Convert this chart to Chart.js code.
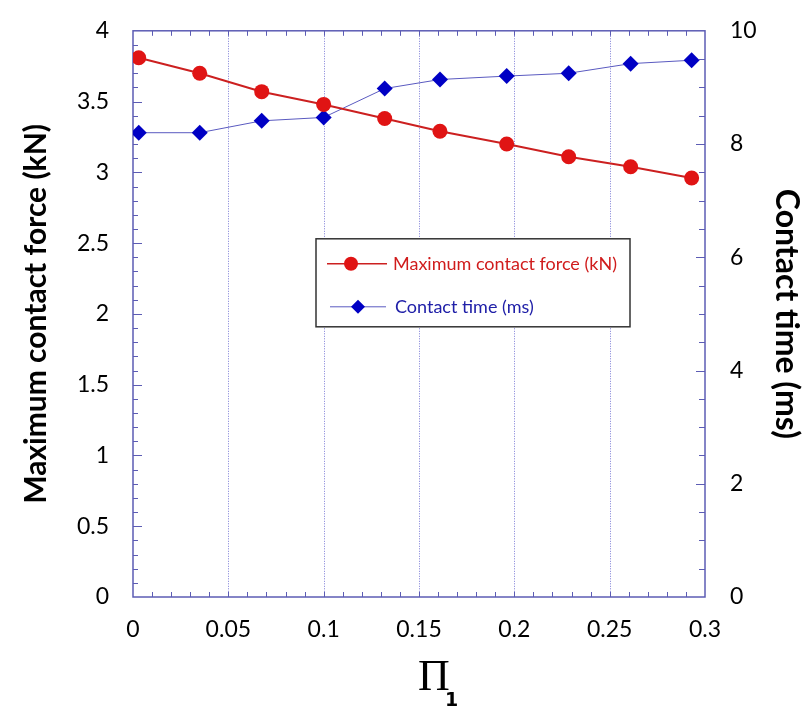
<!DOCTYPE html>
<html>
<head>
<meta charset="utf-8">
<script src="https://cdn.jsdelivr.net/npm/chart.js@4.4.1/dist/chart.umd.min.js"></script>
<style>
    body { margin: 0; background: #ffffff; }
    #wrap { width: 805px; height: 708px; }
</style>
</head>
<body>
<div id="wrap"><canvas id="forceChart" width="805" height="708"></canvas></div>
<script>
// ============================================
// DATA
// ============================================
const piValues = [0.003, 0.035, 0.0675, 0.1, 0.132, 0.161, 0.196, 0.2285, 0.261, 0.293];
const maxForce = [3.81, 3.70, 3.57, 3.48, 3.38, 3.29, 3.20, 3.11, 3.04, 2.96];
const contactTime = [8.20, 8.20, 8.41, 8.47, 8.98, 9.14, 9.20, 9.25, 9.42, 9.48];

const xTicks = [0, 0.05, 0.1, 0.15, 0.2, 0.25, 0.3];
const forceTicks = [0, 0.5, 1, 1.5, 2, 2.5, 3, 3.5, 4];
const timeTicks = [0, 2, 4, 6, 8, 10];

const forceLabel = 'Maximum contact force (kN)';
const timeLabel = 'Contact time (ms)';

// ============================================
// STYLE
// ============================================
const FONT = 'Lato, "Open Sans", sans-serif';
const RED = '#e01414';
const RED_LINE = '#cc2020';
const BLUE = '#0000c4';
const BLUE_LINE = '#5a5ac0';
const FRAME = '#5c5cb4';

const fmt = v => String(+Number(v).toFixed(3));

// frame, grid, inward ticks, legend and the x title
const framePlugin = {
    id: 'frame',
    beforeDatasetsDraw(chart) {
        const { ctx, chartArea: a, scales } = chart;
        const x = scales.x, yl = scales.y, yr = scales.y2;
        ctx.save();
        // dotted vertical grid lines
        ctx.strokeStyle = 'rgba(80, 80, 200, 0.75)';
        ctx.lineWidth = 1;
        ctx.setLineDash([1, 1.5]);
        xTicks.slice(1, -1).forEach(v => {
            const px = Math.round(x.getPixelForValue(v)) + 0.5;
            ctx.beginPath();
            ctx.moveTo(px, a.top);
            ctx.lineTo(px, a.bottom);
            ctx.stroke();
        });
        ctx.setLineDash([]);
        // inward minor ticks
        ctx.strokeStyle = FRAME;
        ctx.beginPath();
        for (let i = 1; i < 30; i++) {
            const px = Math.round(x.getPixelForValue(i / 100)) + 0.5;
            ctx.moveTo(px, a.bottom); ctx.lineTo(px, a.bottom - 5);
            ctx.moveTo(px, a.top); ctx.lineTo(px, a.top + 5);
        }
        for (let i = 1; i < 40; i++) {
            const py = Math.round(yl.getPixelForValue(i / 10)) + 0.5;
            ctx.moveTo(a.left, py); ctx.lineTo(a.left + (i % 5 === 0 ? 9 : 5), py);
        }
        for (let i = 1; i < 20; i++) {
            const py = Math.round(yr.getPixelForValue(i / 2)) + 0.5;
            ctx.moveTo(a.right, py); ctx.lineTo(a.right - (i % 4 === 0 ? 9 : 6), py);
        }
        ctx.stroke();
        // frame
        ctx.lineWidth = 1.5;
        ctx.strokeRect(a.left, a.top, a.right - a.left, a.bottom - a.top);
        ctx.restore();
    },
    afterDraw(chart) {
        const { ctx, chartArea: a } = chart;
        ctx.save();
        // legend box
        const lx = a.left + 183, ly = a.top + 208, lw = 314, lh = 88;
        ctx.fillStyle = '#ffffff';
        ctx.fillRect(lx, ly, lw, lh);
        ctx.strokeStyle = '#333333';
        ctx.lineWidth = 1.5;
        ctx.strokeRect(lx, ly, lw, lh);

        // force entry
        let ey = ly + 25;
        ctx.strokeStyle = RED_LINE;
        ctx.lineWidth = 1.5;
        ctx.beginPath(); ctx.moveTo(lx + 11, ey); ctx.lineTo(lx + 71, ey); ctx.stroke();
        ctx.fillStyle = RED;
        ctx.beginPath(); ctx.arc(lx + 35, ey, 7, 0, Math.PI * 2); ctx.fill();
        ctx.font = '18px ' + FONT;
        ctx.textBaseline = 'middle';
        ctx.fillStyle = '#d01c1c';
        ctx.fillText(forceLabel, lx + 77, ey);

        // time entry
        ey = ly + 68;
        ctx.strokeStyle = BLUE_LINE;
        ctx.lineWidth = 1;
        ctx.beginPath(); ctx.moveTo(lx + 14, ey); ctx.lineTo(lx + 70, ey); ctx.stroke();
        ctx.fillStyle = BLUE;
        ctx.beginPath();
        ctx.moveTo(lx + 42, ey - 7); ctx.lineTo(lx + 49, ey);
        ctx.lineTo(lx + 42, ey + 7); ctx.lineTo(lx + 35, ey);
        ctx.closePath(); ctx.fill();
        ctx.fillStyle = '#2020a8';
        ctx.fillText(timeLabel, lx + 79, ey);

        // x axis title: Pi with subscript 1
        const cx = (a.left + a.right) / 2;
        ctx.fillStyle = '#000000';
        ctx.textBaseline = 'alphabetic';
        ctx.font = '44px "Liberation Serif", serif';
        ctx.fillText('\u03A0', cx - 1, a.bottom + 93);
        ctx.font = 'bold 19px "DejaVu Sans", sans-serif';
        ctx.fillText('1', cx + 26, a.bottom + 109);
        ctx.restore();
    }
};

// ============================================
// CHART
// ============================================
function createChart() {
    const ctx = document.getElementById('forceChart');
    return new Chart(ctx, {
        type: 'line',
        data: {
            datasets: [{
                label: forceLabel,
                data: piValues.map((p, i) => ({ x: p, y: maxForce[i] })),
                yAxisID: 'y',
                borderColor: RED_LINE,
                backgroundColor: RED,
                borderWidth: 2,
                pointStyle: 'circle',
                pointRadius: 7.5,
                pointBorderWidth: 0,
                tension: 0
            }, {
                label: timeLabel,
                data: piValues.map((p, i) => ({ x: p, y: contactTime[i] })),
                yAxisID: 'y2',
                borderColor: BLUE_LINE,
                backgroundColor: BLUE,
                borderWidth: 1,
                pointStyle: 'rectRot',
                pointRadius: 8,
                pointBorderWidth: 0,
                tension: 0
            }]
        },
        options: {
            responsive: false,
            animation: false,
            events: [],
            layout: { padding: { top: 25, left: 0, right: 0, bottom: 0 } },
            plugins: { legend: { display: false }, tooltip: { enabled: false } },
            scales: {
                x: {
                    type: 'linear',
                    min: 0, max: 0.3,
                    afterBuildTicks: s => { s.ticks = xTicks.map(v => ({ value: v })); },
                    afterFit: s => { s.height = 111; },
                    grid: { display: false },
                    border: { display: false },
                    ticks: {
                        color: '#000000',
                        padding: 11,
                        maxRotation: 0,
                        font: { family: FONT, size: 23 },
                        callback: fmt
                    }
                },
                y: {
                    position: 'left',
                    min: 0, max: 4,
                    afterBuildTicks: s => { s.ticks = forceTicks.map(v => ({ value: v })); },
                    afterFit: s => { s.width = 133; },
                    grid: { display: false },
                    border: { display: false },
                    ticks: {
                        color: '#000000',
                        padding: 16,
                        font: { family: FONT, size: 23 },
                        callback: fmt
                    },
                    title: {
                        display: true,
                        text: forceLabel,
                        color: '#000000',
                        padding: { top: 18, bottom: 0 },
                        font: { family: FONT, size: 30, weight: 'bold' }
                    }
                },
                y2: {
                    position: 'right',
                    min: 0, max: 10,
                    afterBuildTicks: s => { s.ticks = timeTicks.map(v => ({ value: v })); },
                    afterFit: s => { s.width = 100; },
                    grid: { display: false },
                    border: { display: false },
                    ticks: {
                        color: '#000000',
                        padding: 17,
                        font: { family: FONT, size: 23 },
                        callback: fmt
                    },
                    title: {
                        display: true,
                        text: timeLabel,
                        color: '#000000',
                        padding: { top: -1, bottom: 0 },
                        font: { family: FONT, size: 32, weight: 'bold' }
                    }
                }
            }
        },
        plugins: [framePlugin]
    });
}

document.addEventListener('DOMContentLoaded', () => {
    createChart();
});
</script>
</body>
</html>
